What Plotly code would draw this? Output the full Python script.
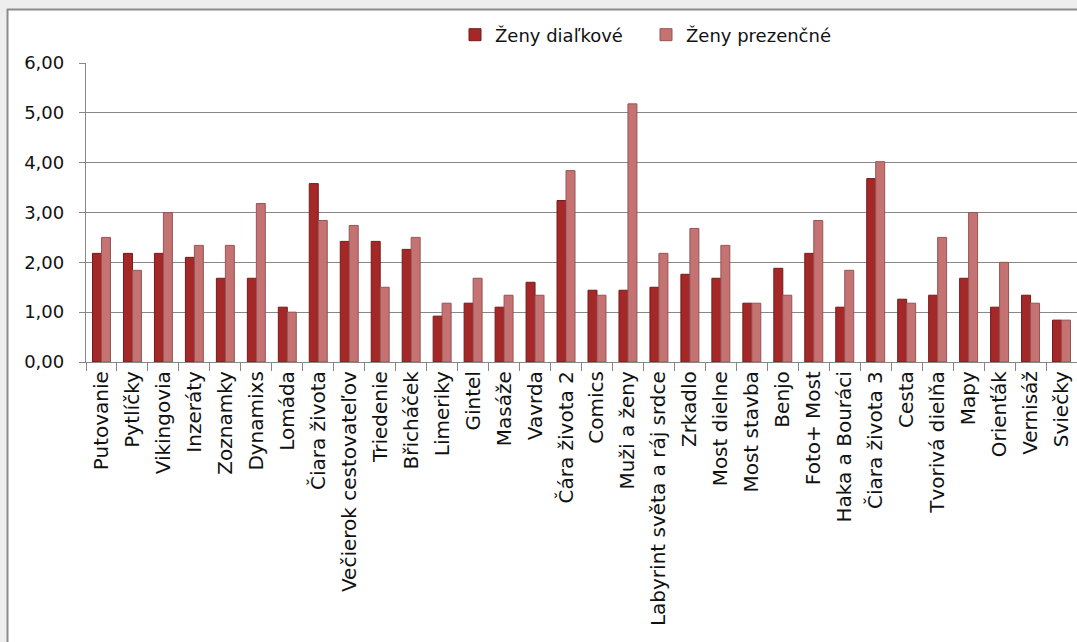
import plotly.graph_objects as go

# Activities (categories) and average scores for the two groups
categories = [
    "Putovanie", "Pytlíčky", "Vikingovia", "Inzeráty", "Zoznamky", "Dynamixs",
    "Lomáda", "Čiara života", "Večierok cestovateľov", "Triedenie", "Břicháček",
    "Limeriky", "Gintel", "Masáže", "Vavrda", "Čára života 2", "Comics",
    "Muži a ženy", "Labyrint světa a ráj srdce", "Zrkadlo", "Most dielne",
    "Most stavba", "Benjo", "Foto+ Most", "Haka a Bouráci", "Čiara života 3",
    "Cesta", "Tvorivá dielňa", "Mapy", "Orienťák", "Vernisáž", "Sviečky",
]

zeny_dialkove = [
    2.18, 2.18, 2.18, 2.10, 1.68, 1.68, 1.10, 3.58, 2.42, 2.42, 2.26,
    0.92, 1.18, 1.10, 1.60, 3.24, 1.44, 1.44, 1.50, 1.76, 1.68,
    1.18, 1.88, 2.18, 1.10, 3.68, 1.26, 1.34, 1.68, 1.10, 1.34, 0.84,
]

zeny_prezencne = [
    2.50, 1.84, 3.00, 2.34, 2.34, 3.18, 1.00, 2.84, 2.74, 1.50, 2.50,
    1.18, 1.68, 1.34, 1.34, 3.84, 1.34, 5.18, 2.18, 2.68, 2.34,
    1.18, 1.34, 2.84, 1.84, 4.02, 1.18, 2.50, 3.00, 2.00, 1.18, 0.84,
]

series_names = ["Ženy diaľkové", "Ženy prezenčné"]
y_ticks = [0, 1, 2, 3, 4, 5, 6]

FONT = "DejaVu Sans"
FS = 18
GRID = "#878787"
TEXT = "#111111"

fig = go.Figure()
fig.add_trace(go.Bar(
    x=categories, y=zeny_dialkove, name=series_names[0],
    marker=dict(color="#A52828", line=dict(color="#761A1A", width=1)),
))
fig.add_trace(go.Bar(
    x=categories, y=zeny_prezencne, name=series_names[1],
    marker=dict(color="#C47272", line=dict(color="#955555", width=1)),
))

# plot area: left 86px, top 63px, bottom 362px
L, T, B = 86, 63, 362
W, H = 1077, 642
pw = W - L
ph = B - T


def px_x(x):
    return (x - L) / pw


def px_y(y):
    return (B - y) / ph


frame_shapes = [
    # grey surround outside the chart frame (left strip and top strip)
    dict(type="rect", xref="paper", yref="paper",
         x0=px_x(-5), x1=px_x(7), y0=px_y(700), y1=px_y(-5),
         fillcolor="#EEEEEE", line=dict(width=0), layer="below"),
    dict(type="rect", xref="paper", yref="paper",
         x0=px_x(-5), x1=px_x(1100), y0=px_y(9), y1=px_y(-5),
         fillcolor="#EEEEEE", line=dict(width=0), layer="below"),
    # frame border lines
    dict(type="line", xref="paper", yref="paper",
         x0=px_x(7.5), x1=px_x(7.5), y0=px_y(700), y1=px_y(9),
         line=dict(color="#8C8C8C", width=2), layer="below"),
    dict(type="line", xref="paper", yref="paper",
         x0=px_x(7), x1=px_x(1100), y0=px_y(9.5), y1=px_y(9.5),
         line=dict(color="#8C8C8C", width=2), layer="below"),
]

fig.update_layout(
    width=W, height=H,
    margin=dict(l=L, r=0, t=T, b=H - B, pad=0),
    paper_bgcolor="white",
    plot_bgcolor="rgba(0,0,0,0)",
    separators=", ",
    barmode="group",
    bargap=0.42,
    bargroupgap=0.0,
    font=dict(family=FONT, size=FS, color=TEXT),
    showlegend=True,
    legend=dict(
        orientation="h",
        x=px_x(455), xanchor="left",
        y=px_y(35), yanchor="middle",
        font=dict(family=FONT, size=FS, color=TEXT),
        bgcolor="rgba(0,0,0,0)",
        itemwidth=30,
        entrywidth=146, entrywidthmode="pixels",
        traceorder="normal",
    ),
    shapes=frame_shapes,
)

fig.update_xaxes(
    type="category",
    showline=True, linecolor=GRID, linewidth=1.3,
    ticks="outside", ticklen=8, tickcolor=GRID, tickwidth=1.2,
    tickson="boundaries",
    tickangle=-90,
    tickfont=dict(family=FONT, size=20, color=TEXT),
    showgrid=False,
    automargin=False,
)

fig.update_yaxes(
    range=[0, 6],
    tickvals=y_ticks,
    tickformat=".2f",
    showline=True, linecolor=GRID, linewidth=1.3,
    ticks="outside", ticklen=6, tickcolor=GRID, tickwidth=1.2,
    showgrid=True, gridcolor=GRID, gridwidth=1.3,
    zeroline=False,
    ticklabelstandoff=11,
    tickfont=dict(family=FONT, size=FS, color=TEXT),
    automargin=False,
)

fig.write_html(
    "out.html",
    post_script="document.body.style.margin='0';document.body.style.overflow='hidden';",
)
